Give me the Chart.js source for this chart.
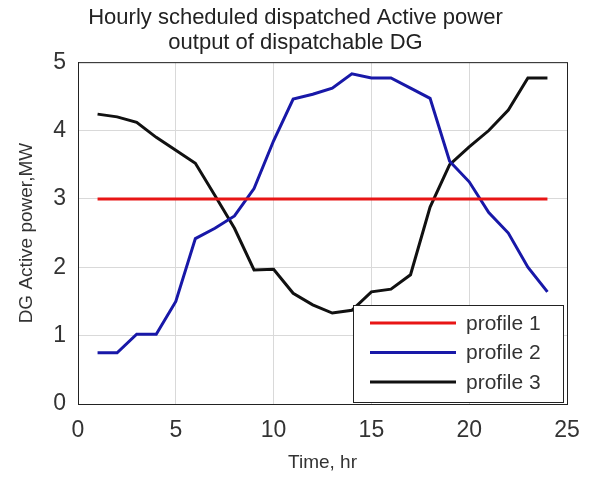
<!DOCTYPE html>
<html>
<head>
<meta charset="utf-8">
<script src="https://cdn.jsdelivr.net/npm/chart.js@4/dist/chart.umd.min.js"></script>
<style>
  html, body { margin: 0; padding: 0; background: #fff; }
  #wrap { width: 589px; height: 479px; }
</style>
</head>
<body>
<div id="wrap"><canvas id="dgChart" width="589" height="479"></canvas></div>
<script>
// ============================
// DATA
// ============================
const hours = [1, 2, 3, 4, 5, 6, 7, 8, 9, 10, 11, 12, 13, 14, 15, 16, 17, 18, 19, 20, 21, 22, 23, 24];

const profile1 = [3, 3, 3, 3, 3, 3, 3, 3, 3, 3, 3, 3, 3, 3, 3, 3, 3, 3, 3, 3, 3, 3, 3, 3];
const profile2 = [0.75, 0.75, 1.02, 1.02, 1.5, 2.42, 2.57, 2.75, 3.15, 3.85, 4.46, 4.53,
                  4.62, 4.83, 4.77, 4.77, 4.62, 4.47, 3.55, 3.25, 2.8, 2.5, 2.0, 1.64];
const profile3 = [4.24, 4.2, 4.12, 3.9, 3.71, 3.52, 3.05, 2.57, 1.96, 1.97, 1.62, 1.45,
                  1.33, 1.37, 1.64, 1.68, 1.89, 2.88, 3.5, 3.76, 4.0, 4.3, 4.77, 4.77];

const seriesNames = ['profile 1', 'profile 2', 'profile 3'];
const xTicks = [0, 5, 10, 15, 20, 25];
const yTicks = [0, 1, 2, 3, 4, 5];

const FONT = "'Liberation Sans', Arial, Helvetica, sans-serif";

// pares {x, y} para eje lineal
const toPoints = vals => vals.map((v, i) => ({ x: hours[i], y: v }));

// ============================
// PLUGINS
// ============================

// caja completa alrededor del area (estilo MATLAB)
const boxPlugin = {
    id: 'boxPlugin',
    afterDatasetsDraw(chart) {
        const { ctx, chartArea: a } = chart;
        ctx.save();
        ctx.strokeStyle = '#222';
        ctx.lineWidth = 1;
        ctx.strokeRect(a.left + 0.5, a.top + 0.5, a.right - a.left, a.bottom - a.top);
        ctx.restore();
    }
};

// leyenda abajo a la derecha dentro del grafico
const legendBox = {
    id: 'legendBox',
    afterDatasetsDraw(chart) {
        const { ctx, chartArea: a } = chart;
        const w = 210, h = 97;
        const x = a.right - 4 - w;
        const y = a.bottom - 2 - h;
        ctx.save();
        ctx.fillStyle = '#fff';
        ctx.fillRect(x, y, w, h);
        ctx.strokeStyle = '#222';
        ctx.lineWidth = 1;
        ctx.strokeRect(x + 0.5, y + 0.5, w, h);
        ctx.font = '21px ' + FONT;
        ctx.textBaseline = 'middle';
        chart.data.datasets.forEach((ds, i) => {
            const ly = y + 18 + i * 29.5;
            ctx.strokeStyle = ds.borderColor;
            ctx.lineWidth = 3;
            ctx.beginPath();
            ctx.moveTo(x + 17, ly);
            ctx.lineTo(x + 103, ly);
            ctx.stroke();
            ctx.fillStyle = '#333';
            ctx.fillText(ds.label, x + 113, ly + 1);
        });
        ctx.restore();
    }
};

// ============================
// GRAFICO
// ============================
const ctx = document.getElementById('dgChart').getContext('2d');

new Chart(ctx, {
    type: 'line',
    data: {
        datasets: [
            { label: seriesNames[0], data: toPoints(profile1), borderColor: '#e81515', borderWidth: 3 },
            { label: seriesNames[1], data: toPoints(profile2), borderColor: '#1818a8', borderWidth: 3 },
            { label: seriesNames[2], data: toPoints(profile3), borderColor: '#111111', borderWidth: 3 }
        ]
    },
    options: {
        responsive: false,
        animation: false,
        elements: {
            point: { radius: 0 },
            line: { tension: 0 }
        },
        layout: { padding: { left: 24, right: 22, top: 0, bottom: 0 } },
        plugins: {
            legend: { display: false },
            tooltip: { enabled: false },
            title: {
                display: true,
                text: ['Hourly scheduled dispatched Active power', 'output of dispatchable DG'],
                color: '#222',
                font: { family: FONT, size: 22, weight: 'normal', lineHeight: 1.14 },
                padding: { top: 5, bottom: 7 }
            }
        },
        scales: {
            x: {
                type: 'linear',
                min: 0,
                max: 25,
                afterBuildTicks: scale => { scale.ticks = xTicks.map(v => ({ value: v })); },
                afterFit: scale => {
                    scale.height = 75;
                    scale.paddingLeft = 0;
                    scale.paddingRight = 0;
                },
                grid: { color: '#d9d9d9', drawTicks: false },
                border: { color: '#222' },
                ticks: {
                    color: '#333',
                    padding: 13,
                    font: { family: FONT, size: 23 }
                },
                title: {
                    display: true,
                    text: 'Time, hr',
                    color: '#333',
                    font: { family: FONT, size: 19 },
                    padding: { top: 0, bottom: 5 }
                }
            },
            y: {
                min: 0,
                max: 5,
                afterBuildTicks: scale => { scale.ticks = yTicks.map(v => ({ value: v })); },
                afterFit: scale => { scale.width = 54; },
                grid: { color: '#d9d9d9', drawTicks: false },
                border: { color: '#222' },
                ticks: {
                    color: '#333',
                    padding: 12,
                    font: { family: FONT, size: 23 }
                },
                title: {
                    display: true,
                    text: 'DG Active power,MW',
                    color: '#333',
                    font: { family: FONT, size: 19, lineHeight: 0.3 },
                    padding: { top: 0, bottom: 0 }
                }
            }
        }
    },
    plugins: [boxPlugin, legendBox]
});
</script>
</body>
</html>
